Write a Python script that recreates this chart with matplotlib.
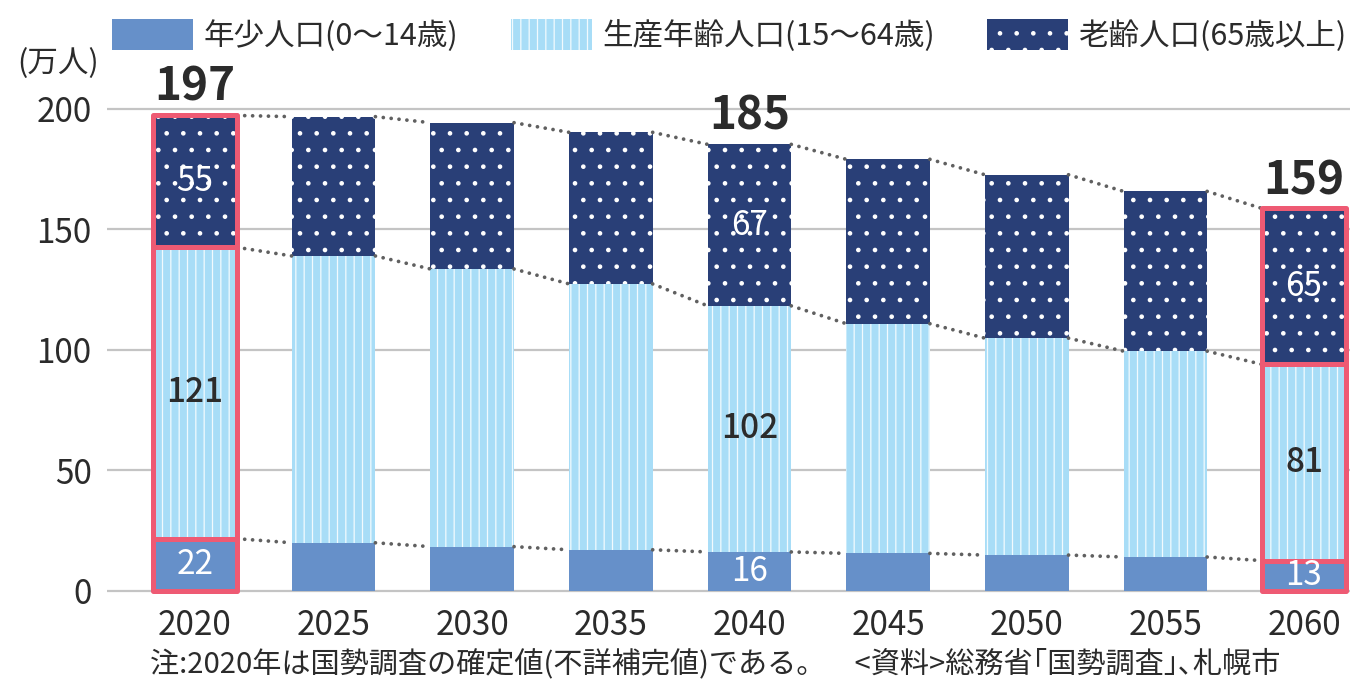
import matplotlib
matplotlib.use("Agg")
import matplotlib.pyplot as plt
from matplotlib.patches import Rectangle
import numpy as np

plt.rcParams['font.family'] = ['Noto Sans CJK JP', 'DejaVu Sans']
plt.rcParams['hatch.linewidth'] = 0.9

# ---- data (万人) ----
years = ["2020", "2025", "2030", "2035", "2040", "2045", "2050", "2055", "2060"]
young = [21.7, 20.0, 18.4, 17.1, 16.2, 15.6, 14.9, 14.1, 12.6]      # 年少人口(0〜14歳)
working = [120.9, 119.0, 115.2, 110.3, 102.1, 95.3, 90.0, 85.4, 81.4]  # 生産年齢人口(15〜64歳)
old = [54.7, 57.8, 60.7, 62.9, 67.0, 68.2, 67.8, 66.3, 64.7]        # 老齢人口(65歳以上)
series_names = ["年少人口(0〜14歳)", "生産年齢人口(15〜64歳)", "老齢人口(65歳以上)"]
highlight = [0, 8]          # boxed bars
labeled = [0, 4, 8]         # bars with value labels
yticks = [0, 50, 100, 150, 200]
unit_label = "(万人)"
note = "注:2020年は国勢調査の確定値(不詳補完値)である。　<資料>総務省｢国勢調査｣､札幌市"

c_young = "#6690C9"
c_work = "#A8DDF7"
c_old = "#293F77"
c_red = "#EE5A73"
c_dot = "#606060"
c_text = "#2B2B2B"

young = np.array(young)
working = np.array(working)
old = np.array(old)
total = young + working + old
x = np.arange(len(years))
w = 0.603

fig = plt.figure(figsize=(13.5, 6.81), dpi=100)
ax = fig.add_axes([107 / 1350, 86.4 / 681, 1243 / 1350, 497.7 / 681])
ax.set_xlim(-0.6348, 8.332)
ax.set_ylim(-1.5, 205)

b1 = ax.bar(x, young, w, color=c_young, linewidth=0, zorder=2, label=series_names[0])
b2 = ax.bar(x, working, w, bottom=young, color=c_work, edgecolor="#F2FAFE",
            hatch="||", linewidth=0, zorder=2, label=series_names[1])
b3 = ax.bar(x, old, w, bottom=young + working, color=c_old, edgecolor="white",
            hatch=".", linewidth=0, zorder=2, label=series_names[2])

# dotted connector lines between bar corners
for level in [young, young + working, total]:
    for i in range(len(x) - 1):
        ax.plot([x[i] + w / 2, x[i + 1] - w / 2], [level[i], level[i + 1]],
                color=c_dot, lw=2.7, linestyle=(0, (0.01, 2.1)),
                dash_capstyle="round", zorder=3)

# red boxes around highlighted bars' segments
for i in highlight:
    bottoms = [0, young[i], young[i] + working[i]]
    heights = [young[i], working[i], old[i]]
    for btm, h in zip(bottoms, heights):
        ax.add_patch(Rectangle((x[i] - w / 2, btm), w, h, fill=False,
                               edgecolor=c_red, lw=3.6, joinstyle="round", zorder=4))

# value labels
for i in labeled:
    ax.text(x[i], young[i] / 2, f"{young[i]:.0f}", ha="center", va="center",
            color="white", fontsize=24, zorder=5)
    ax.text(x[i], young[i] + working[i] / 2, f"{working[i]:.0f}", ha="center",
            va="center", color=c_text, fontsize=24, fontweight="medium", zorder=5)
    ax.text(x[i], young[i] + working[i] + old[i] / 2, f"{old[i]:.0f}", ha="center",
            va="center", color="white", fontsize=24, zorder=5)
    ax.text(x[i], total[i] + 6, f"{total[i]:.0f}", ha="center", va="baseline",
            color=c_text, fontsize=33, fontweight="bold", zorder=5)

ax.set_yticks(yticks)
ax.set_xticks(x)
ax.set_xticklabels(years)
ax.tick_params(axis="both", length=0, labelsize=24, labelcolor=c_text)
ax.tick_params(axis="y", pad=11)
ax.tick_params(axis="x", pad=9.5)
ax.yaxis.grid(True, color="#C4C4C4", lw=1.6, zorder=0)
ax.set_axisbelow(True)
for s in ax.spines.values():
    s.set_visible(False)

fig.text(58 / 1350, 1 - 64 / 681, unit_label, ha="center", va="center",
         fontsize=22, color=c_text)

fig.legend(handles=[b1, b2, b3], loc="upper left",
           bbox_to_anchor=(112 / 1350, 1 - 19 / 681), ncol=3, frameon=False,
           fontsize=22, handlelength=2.65, handleheight=1.18, handletextpad=0.36,
           columnspacing=1.7, borderpad=0, borderaxespad=0, labelcolor=c_text)

fig.text(715 / 1350, 2 / 681, note, ha="center", va="bottom",
         fontsize=21, color=c_text)

fig.savefig("out.png", dpi=100)
